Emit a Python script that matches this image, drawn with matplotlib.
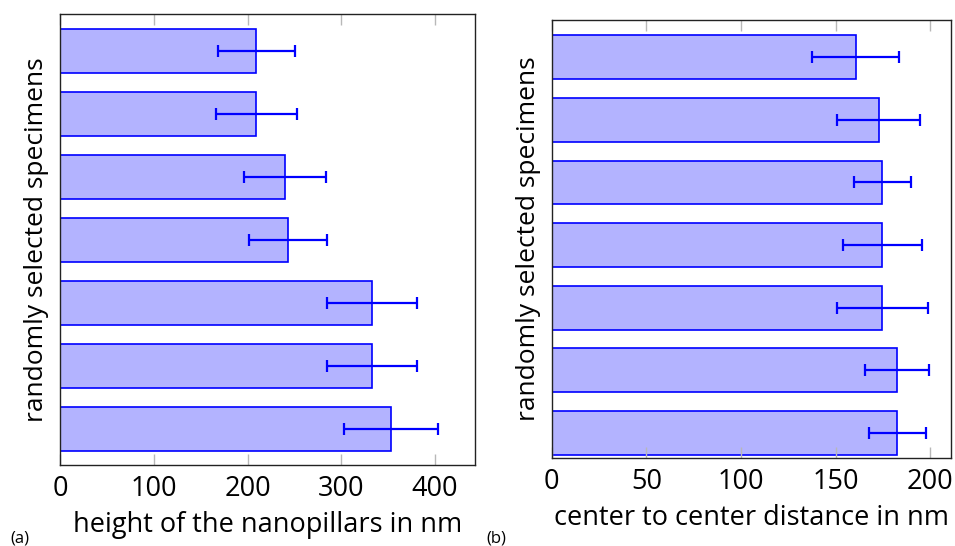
import numpy as np
import matplotlib
matplotlib.use('Agg')
import matplotlib.pyplot as plt

plt.rcParams['font.family'] = ['Open Sans', 'DejaVu Sans']

# (a) height of nanopillars, top bar first
height_mean = [209.5, 209.5, 240.0, 243.0, 333.0, 333.0, 353.0]
height_err = [41.0, 43.0, 44.0, 41.6, 48.0, 48.0, 50.4]
# (b) center to center distance, top bar first
dist_mean = [160.7, 172.7, 174.7, 174.7, 174.7, 182.6, 182.6]
dist_err = [23.0, 22.0, 15.0, 21.0, 24.0, 17.0, 15.0]

height_ticks = [0, 100, 200, 300, 400]
dist_ticks = [0, 50, 100, 150, 200]

fill = '#b3b3ff'
edge = '#0000ff'

fig = plt.figure(figsize=(9.55, 5.46), dpi=100)
ax1 = fig.add_axes([0.0628, 0.148, 0.4346, 0.826])
ax2 = fig.add_axes([0.5777, 0.161, 0.4181, 0.802])

def draw(ax, mean, err, ticks, xmax, ylim, xlabel):
    pos = np.arange(len(mean))[::-1]
    ax.barh(pos, mean, height=0.7, color=fill, edgecolor=edge, linewidth=1.2)
    ax.errorbar(mean, pos, xerr=err, fmt='none', ecolor=edge, elinewidth=1.6,
                capsize=4.3, capthick=1.6)
    ax.set_xlim(0, xmax)
    ax.set_ylim(*ylim)
    ax.set_yticks([])
    ax.set_xticks(ticks)
    ax.tick_params(axis='x', direction='in', top=True, length=8, width=1,
                   color='#b8b8b8', labelsize=19.5, pad=7)
    for s in ax.spines.values():
        s.set_color('#222222')
        s.set_linewidth(1)
    ax.set_xlabel(xlabel, fontsize=19.5, labelpad=6)
    ax.set_ylabel('randomly selected specimens', fontsize=19, labelpad=8)

draw(ax1, height_mean, height_err, height_ticks, 442.6, (-0.57, 6.58),
     'height of the nanopillars in nm')
draw(ax2, dist_mean, dist_err, dist_ticks, 211.0, (-0.4, 6.59),
     'center to center distance in nm')

fig.text(0.011, 0.006, '(a)', fontsize=12)
fig.text(0.509, 0.006, '(b)', fontsize=12)

plt.savefig('out.png', dpi=100)
